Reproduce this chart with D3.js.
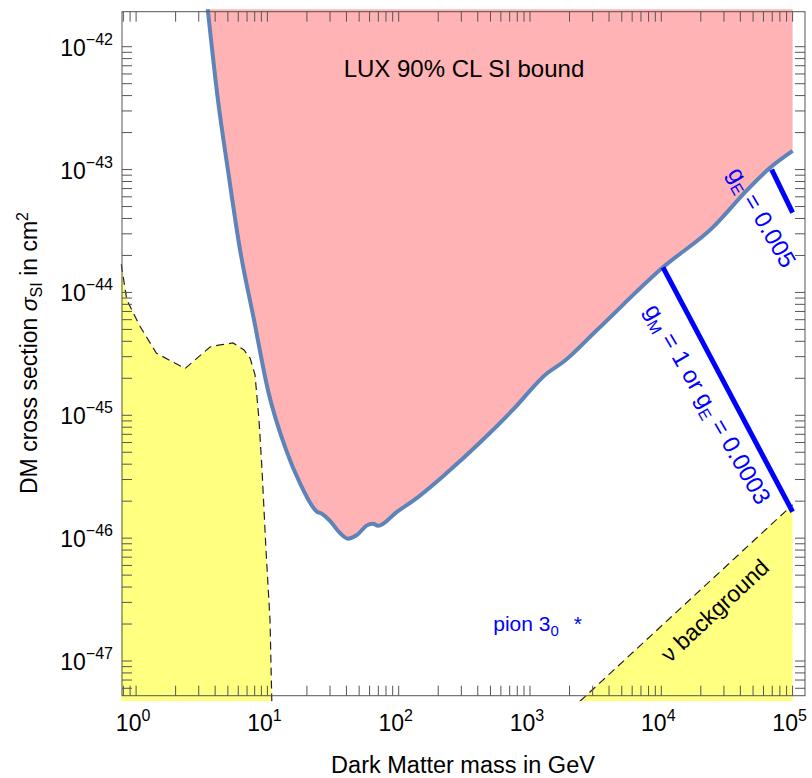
<!DOCTYPE html>
<html lang="en">
<head>
<meta charset="UTF-8">
<title>DM cross section vs mass</title>
<script src="https://d3js.org/d3.v7.min.js"></script>
<style>
  body { margin: 0; background: #fff; }
  svg { display: block; font-family: "Liberation Sans", Arial, sans-serif; }
  .frame { fill: none; stroke: #555; stroke-width: 1; }
  .tick { stroke: #555; stroke-width: 1; }
</style>
</head>
<body>
<svg width="812" height="778"></svg>
<script>
// LUX 90% CL SI bound: mass (GeV), cross section (cm^2)
const luxMass = [3.5, 4.2, 5.0, 6.2, 7.9, 10.1, 13.9, 17.7, 23.9, 26, 30, 35.7, 41, 48, 58, 64, 69.5,
  97, 138, 233, 416, 742, 1350, 1780, 3240, 10300, 24800, 45000, 67000, 100000];
const luxSigma = [2.1e-42, 3.7e-43, 1.0e-43, 2.2e-44, 6.0e-45, 1.6e-45, 5.2e-46, 2.8e-46, 1.64e-46, 1.58e-46,
  1.38e-46, 1.10e-46, 9.9e-47, 1.06e-46, 1.28e-46, 1.31e-46, 1.26e-46,
  1.64e-46, 2.13e-46, 3.4e-46, 6.0e-46, 1.11e-45, 2.2e-45, 2.7e-45, 4.95e-45, 1.6e-44, 3.4e-44, 6.8e-44, 1.03e-43, 1.42e-43];

// low mass yellow region
const lowMass = [0.77, 0.85, 1.07, 1.43, 2.36, 3.66, 4.36, 5.47, 6.64, 7.4, 8.05, 8.63, 9.1, 9.76, 10.47, 10.84];
const lowSigma = [1.7e-44, 8.7e-45, 5.3e-45, 3.2e-45, 2.4e-45, 3.6e-45, 3.74e-45, 3.88e-45, 3.4e-45, 2.9e-45,
  2.13e-45, 9.2e-46, 3.6e-46, 8.0e-47, 2.16e-47, 4.0e-48];

// neutrino background
const nuMass = [2400, 100000];
const nuSigma = [4.7e-48, 1.87e-46];

// coupling lines
const gmMass = [10300, 100000];
const gmSigma = [1.6e-44, 1.64e-46];
const geMass = [69300, 100000];
const geSigma = [1.0e-43, 4.46e-44];

const xDecades = [0, 1, 2, 3, 4, 5];
const yDecades = [-47, -46, -45, -44, -43, -42];

const svg = d3.select('svg');
const margin = { top: 11.7, right: 7, bottom: 82.3, left: 122 };
const width = 812 - margin.left - margin.right;
const height = 778 - margin.top - margin.bottom;

const x = d3.scaleLog().domain([0.781, 1.243e5]).range([0, width]);
const y = d3.scaleLog().domain([5.22e-48, 1.927e-42]).range([height, 0]);

const g = svg.append('g').attr('transform', `translate(${margin.left},${margin.top})`);

g.append('clipPath').attr('id', 'clip')
  .append('rect').attr('x', -1.5).attr('y', -2.5).attr('width', width + 1.5).attr('height', height + 8);

const plot = g.append('g').attr('clip-path', 'url(#clip)');

const zip = (a, b) => a.map((v, i) => [v, b[i]]);
const lux = zip(luxMass, luxSigma);
const low = zip(lowMass, lowSigma);
const nu = zip(nuMass, nuSigma);

// pink excluded region
plot.append('path')
  .datum(lux)
  .attr('fill', '#ffb3b4')
  .attr('d', d3.area().x(d => x(d[0])).y0(-3).y1(d => y(d[1])).curve(d3.curveMonotoneX));

plot.append('path')
  .datum(lux)
  .attr('fill', 'none')
  .attr('stroke', '#5e83b8')
  .attr('stroke-width', 4)
  .attr('d', d3.line().x(d => x(d[0])).y(d => y(d[1])).curve(d3.curveMonotoneX));

// yellow regions
const yellowArea = d3.area().x(d => x(d[0])).y0(height + 5.3).y1(d => y(d[1]));
const dashLine = d3.line().x(d => x(d[0])).y(d => y(d[1]));

[low, nu].forEach(data => {
  plot.append('path').datum(data).attr('fill', '#ffff80').attr('d', yellowArea);
  plot.append('path').datum(data)
    .attr('fill', 'none')
    .attr('stroke', '#222')
    .attr('stroke-width', 1.2)
    .attr('stroke-dasharray', '8,5')
    .attr('d', dashLine);
});

// blue coupling lines
[zip(gmMass, gmSigma), zip(geMass, geSigma)].forEach(data => {
  plot.append('path').datum(data)
    .attr('fill', 'none')
    .attr('stroke', '#0000ff')
    .attr('stroke-width', 5)
    .attr('d', dashLine);
});

// annotations
g.append('text')
  .attr('x', x(314)).attr('y', y(6.4e-43))
  .attr('text-anchor', 'middle').attr('dominant-baseline', 'middle')
  .attr('font-size', 24)
  .text('LUX 90% CL SI bound');

const gm = g.append('text')
  .attr('transform', `translate(${x(22170)},${y(1.22e-45)}) rotate(60)`)
  .attr('text-anchor', 'middle')
  .attr('fill', '#0000ff')
  .attr('font-size', 24);
gm.append('tspan').attr('dy', 7).text('g');
gm.append('tspan').attr('font-size', 16).attr('dy', 5).text('M');
gm.append('tspan').attr('dy', -5).text(' = 1 or g');
gm.append('tspan').attr('font-size', 16).attr('dy', 5).text('E');
gm.append('tspan').attr('dy', -5).text(' = 0.0003');

const ge = g.append('text')
  .attr('transform', `translate(${x(57450)},${y(4.04e-44)}) rotate(60)`)
  .attr('text-anchor', 'middle')
  .attr('fill', '#0000ff')
  .attr('font-size', 24);
ge.append('tspan').attr('dy', 7).text('g');
ge.append('tspan').attr('font-size', 16).attr('dy', 5).text('E');
ge.append('tspan').attr('dy', -5).text(' = 0.005');

const pion = g.append('text')
  .attr('x', x(525)).attr('y', y(1.74e-47))
  .attr('fill', '#0000ff')
  .attr('font-size', 21);
pion.append('tspan').text('pion 3');
pion.append('tspan').attr('font-size', 15).attr('dy', 5).text('0');
pion.append('tspan').attr('dy', -5).attr('dx', 15).text('*');

g.append('text')
  .attr('transform', `translate(${x(26100)},${y(2.51e-47)}) rotate(-43)`)
  .attr('text-anchor', 'middle').attr('dominant-baseline', 'middle')
  .attr('font-size', 23)
  .text('ν background');

// frame and ticks
g.append('rect').attr('class', 'frame').attr('width', width).attr('height', height);

const tickLen = 10;
const xTicks = [];
for (let k = -1; k <= 5; k++) for (let m = 1; m <= 9; m++) {
  const v = m * Math.pow(10, k);
  if (v >= x.domain()[0] && v <= x.domain()[1]) xTicks.push(v);
}
const yTicks = [];
for (let k = -48; k <= -42; k++) for (let m = 1; m <= 9; m++) {
  const v = m * Math.pow(10, k);
  if (v >= y.domain()[0] && v <= y.domain()[1]) yTicks.push(v);
}

const ticks = g.append('g');
xTicks.forEach(v => {
  const px = x(v);
  ticks.append('line').attr('class', 'tick').attr('x1', px).attr('x2', px).attr('y1', height).attr('y2', height - tickLen);
  ticks.append('line').attr('class', 'tick').attr('x1', px).attr('x2', px).attr('y1', 0).attr('y2', tickLen);
});
yTicks.forEach(v => {
  const py = y(v);
  ticks.append('line').attr('class', 'tick').attr('y1', py).attr('y2', py).attr('x1', 0).attr('x2', tickLen);
  ticks.append('line').attr('class', 'tick').attr('y1', py).attr('y2', py).attr('x1', width).attr('x2', width - tickLen);
});

// tick labels
xDecades.forEach(k => {
  const t = g.append('text')
    .attr('x', x(Math.pow(10, k)) - 3).attr('y', height + 35)
    .attr('text-anchor', 'middle')
    .attr('font-size', 23);
  t.append('tspan').text('10');
  t.append('tspan').attr('font-size', 16).attr('dy', -10).text(k);
});
yDecades.forEach(k => {
  const t = g.append('text')
    .attr('x', -9).attr('y', y(Math.pow(10, k)) + 9)
    .attr('text-anchor', 'end')
    .attr('font-size', 23);
  t.append('tspan').text('10');
  t.append('tspan').attr('font-size', 16).attr('dy', -11).text('\u2212' + (-k));
});

// axis titles
svg.append('text')
  .attr('x', 463).attr('y', 773)
  .attr('text-anchor', 'middle')
  .attr('font-size', 23.5)
  .text('Dark Matter mass in GeV');

const yl = svg.append('text')
  .attr('transform', 'translate(37,353) rotate(-90)')
  .attr('text-anchor', 'middle')
  .attr('font-size', 23);
yl.append('tspan').text('DM cross section ');
yl.append('tspan').style('font-style', 'italic').text('σ');
yl.append('tspan').attr('font-size', 16).attr('dy', 5).text('SI');
yl.append('tspan').attr('dy', -5).text(' in cm');
yl.append('tspan').attr('font-size', 16).attr('dy', -9).text('2');
</script>
</body>
</html>
